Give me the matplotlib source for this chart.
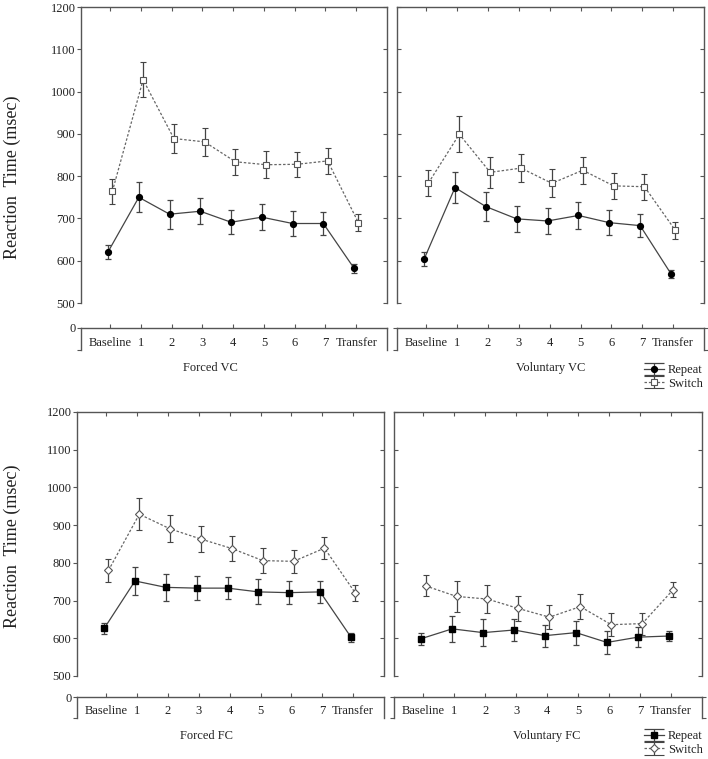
import matplotlib
matplotlib.use("Agg")
import matplotlib.pyplot as plt
import numpy as np

plt.rcParams['font.family'] = ['Liberation Serif', 'DejaVu Serif']

categories = ["Baseline", "1", "2", "3", "4", "5", "6", "7", "Transfer"]
ytick_vals = [500, 600, 700, 800, 900, 1000, 1100, 1200]

# Forced VC
fvc_repeat = [621, 750, 710, 717, 691, 703, 688, 688, 582]
fvc_repeat_err = [16, 35, 34, 31, 29, 31, 30, 28, 10]
fvc_switch = [764, 1028, 889, 881, 834, 827, 828, 836, 690]
fvc_switch_err = [29, 42, 35, 33, 31, 32, 30, 30, 20]

# Voluntary VC
vvc_repeat = [604, 773, 728, 699, 694, 707, 690, 683, 569]
vvc_repeat_err = [17, 37, 35, 31, 30, 31, 30, 28, 10]
vvc_switch = [784, 899, 809, 819, 783, 814, 777, 775, 672]
vvc_switch_err = [30, 43, 37, 33, 33, 32, 30, 31, 20]

# Forced FC
ffc_repeat = [626, 752, 735, 733, 733, 723, 721, 723, 603]
ffc_repeat_err = [15, 36, 36, 31, 30, 33, 30, 29, 12]
ffc_switch = [780, 929, 890, 863, 838, 806, 804, 839, 720]
ffc_switch_err = [30, 43, 36, 34, 33, 33, 31, 30, 20]

# Voluntary FC
vfc_repeat = [599, 625, 615, 622, 607, 615, 589, 603, 606]
vfc_repeat_err = [16, 35, 35, 30, 29, 32, 30, 27, 12]
vfc_switch = [739, 711, 704, 679, 656, 684, 636, 639, 729]
vfc_switch_err = [28, 42, 36, 33, 32, 33, 30, 29, 20]

W, H = 708, 759
fig = plt.figure(figsize=(W / 100, H / 100), dpi=100)

def fx(px):
    return px / W

def fy(px):
    return 1 - px / H

SPINE = '#555555'
TXT = '#222222'
FS = 9

REP_STYLE = dict(color='#444444', ecolor='#444444', elinewidth=0.9, capthick=0.9,
                 lw=0.9, ls='-', mfc='black', mec='black')
SW_STYLE = dict(color='#666666', ecolor='#444444', elinewidth=0.9, capthick=0.9,
                lw=0.9, ls=(0, (2, 1.5)), mfc='white', mec='#555555', mew=0.8)

def panel(left, right, top, bottom, strip_top, strip_bot, rep, rep_err, sw, sw_err,
          rep_marker, sw_marker, is_left, xlabel, xlabel_x, xlabel_y):
    ax = fig.add_axes([fx(left), fy(bottom), fx(right - left), fy(top) - fy(bottom)])
    x = np.arange(len(categories))
    off = 0.07
    ax.errorbar(x - off, rep, yerr=rep_err, capsize=2.2, marker=rep_marker,
                ms=4.2 if rep_marker == 'o' else 4.0, **REP_STYLE)
    ax.errorbar(x + off, sw, yerr=sw_err, capsize=2.2, marker=sw_marker,
                ms=4.0 if sw_marker == 's' else 3.8, **SW_STYLE)
    ax.set_xlim(-0.95, 9.0)
    ax.set_ylim(500, 1200)
    ax.set_yticks(ytick_vals)
    ax.set_xticks(x)
    ax.spines['bottom'].set_visible(False)
    for sp in ['left', 'right', 'top']:
        ax.spines[sp].set_color(SPINE)
        ax.spines[sp].set_linewidth(1.0)
    ax.tick_params(axis='x', bottom=False, top=True, direction='in', length=3,
                   color=SPINE, labelbottom=False, labeltop=False)
    if is_left:
        ax.tick_params(axis='y', left=True, right=True, direction='out', length=3,
                       color=SPINE, labelsize=FS, labelcolor=TXT, pad=1)
        for t in ax.yaxis.get_major_ticks():
            t.tick2line.set_marker(matplotlib.lines.TICKLEFT)
    else:
        ax.tick_params(axis='y', left=True, right=True, direction='in', length=3,
                       color=SPINE, labelleft=False)
    ax.patch.set_alpha(0)

    st = fig.add_axes([fx(left), fy(strip_bot), fx(right - left), fy(strip_top) - fy(strip_bot)])
    st.set_xlim(-0.95, 9.0)
    st.set_ylim(0, 1)
    st.spines['bottom'].set_visible(False)
    for sp in ['left', 'right', 'top']:
        st.spines[sp].set_color(SPINE)
        st.spines[sp].set_linewidth(1.0)
    st.set_xticks(x)
    st.set_xticklabels(categories)
    st.tick_params(axis='x', bottom=False, top=True, direction='out', length=3,
                   color=SPINE, labelbottom=True, labeltop=False, labelsize=FS,
                   labelcolor=TXT, pad=-12)
    st.set_yticks([0, 1])
    if is_left:
        st.set_yticklabels(['', '0'])
        st.tick_params(axis='y', left=True, right=False, direction='out', length=3,
                       color=SPINE, labelsize=FS, labelcolor=TXT, pad=1)
    else:
        st.set_yticklabels(['', ''])
        st.tick_params(axis='y', left=True, right=True, direction='out', length=3,
                       color=SPINE)
    st.patch.set_alpha(0)

    fig.text(fx(xlabel_x), fy(xlabel_y), xlabel, ha='center', va='center',
             fontsize=FS, color=TXT)

def legend(rep_marker, sw_marker, ypx):
    hid = fig.add_axes([0, 0, 0.01, 0.01])
    hid.set_visible(False)
    hr = hid.errorbar([0], [0], yerr=[1], capsize=7, marker=rep_marker,
                      ms=4.2 if rep_marker == 'o' else 4.0, **REP_STYLE)
    hs = hid.errorbar([0], [0], yerr=[1], capsize=7, marker=sw_marker,
                      ms=4.0 if sw_marker == 's' else 3.8, **SW_STYLE)
    fig.legend([hr, hs], ['Repeat', 'Switch'], loc='center left',
               bbox_to_anchor=(fx(638), fy(ypx)), frameon=False, fontsize=FS,
               handlelength=1.6, handletextpad=0.3, labelspacing=0.1, borderpad=0,
               labelcolor=TXT)

# Top row
panel(81, 387, 7, 303, 328, 350, fvc_repeat, fvc_repeat_err, fvc_switch, fvc_switch_err,
      'o', 's', True, 'Forced VC', 210, 368)
panel(397, 704, 7, 303, 328, 350, vvc_repeat, vvc_repeat_err, vvc_switch, vvc_switch_err,
      'o', 's', False, 'Voluntary VC', 551, 368)
legend('o', 's', 377)

# Bottom row
panel(77, 384, 412, 676, 697, 718, ffc_repeat, ffc_repeat_err, ffc_switch, ffc_switch_err,
      's', 'D', True, 'Forced FC', 206, 736)
panel(394, 702, 412, 676, 697, 718, vfc_repeat, vfc_repeat_err, vfc_switch, vfc_switch_err,
      's', 'D', False, 'Voluntary FC', 547, 736)
legend('s', 'D', 743)

fig.text(fx(12), fy(177), 'Reaction  Time (msec)', rotation=90, ha='center', va='center',
         fontsize=13, color=TXT)
fig.text(fx(12), fy(546), 'Reaction  Time (msec)', rotation=90, ha='center', va='center',
         fontsize=13, color=TXT)

fig.savefig('out.png', dpi=100)
